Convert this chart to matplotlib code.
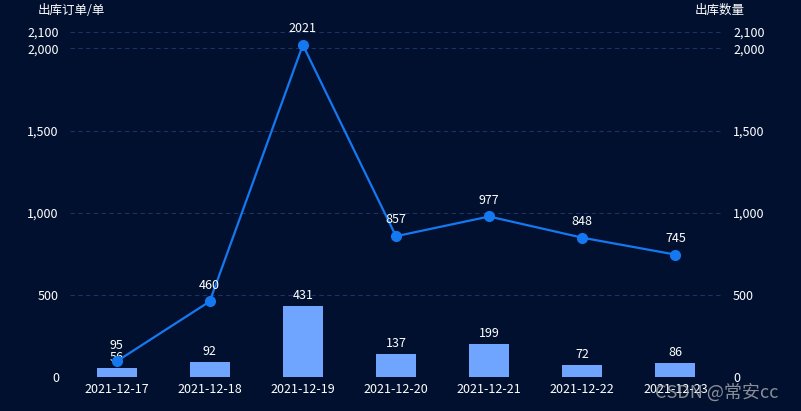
import matplotlib
matplotlib.use('Agg')
import matplotlib.pyplot as plt
import numpy as np

plt.rcParams['font.family'] = ['Noto Sans CJK SC', 'DejaVu Sans']

dates = ['2021-12-17', '2021-12-18', '2021-12-19', '2021-12-20',
         '2021-12-21', '2021-12-22', '2021-12-23']
orders = [56, 92, 431, 137, 199, 72, 86]
quantity = [95, 460, 2021, 857, 977, 848, 745]
yticks = [0, 500, 1000, 1500, 2000, 2100]

bg = '#01102f'
grid_c = '#1b3361'
bar_c = '#6fa5ff'
line_c = '#1479f0'

fig = plt.figure(figsize=(8.01, 4.11), dpi=100, facecolor=bg)
ax = fig.add_axes([70 / 801, 1 - 377 / 411, 652 / 801, 345 / 411], facecolor=bg)
ax2 = ax.twinx()

x = np.arange(len(dates))
ax.bar(x, orders, width=0.43, color=bar_c, zorder=2)
for xi, v in zip(x, orders):
    ax.annotate(str(v), (xi, v), xytext=(0, 3), textcoords='offset points',
                ha='center', va='bottom', color='white', fontsize=9)

ax2.plot(x, quantity, color=line_c, lw=1.6, marker='o', markersize=7, zorder=3)
for xi, v in zip(x, quantity):
    ax2.annotate(str(v), (xi, v), xytext=(0, 7), textcoords='offset points',
                 ha='center', va='bottom', color='white', fontsize=9)

for a in (ax, ax2):
    a.set_ylim(0, 2100)
    a.set_yticks(yticks)
    a.set_yticklabels([f'{t:,}' for t in yticks])
    a.set_xlim(-0.5, len(dates) - 0.5)
    for s in a.spines.values():
        s.set_visible(False)
    a.tick_params(axis='y', length=0, colors='white', labelsize=9, pad=8)

ax.set_xticks(x)
ax.set_xticklabels(dates)
ax.tick_params(axis='x', length=0, colors='white', labelsize=9, pad=4)
ax.grid(axis='y', color=grid_c, linestyle=(0, (4, 3)), lw=0.8, zorder=0)
ax.set_axisbelow(True)

fig.text(38 / 801, 1 - 10 / 411, '出库订单/单', color='white', fontsize=9,
         ha='left', va='center')
fig.text(745 / 801, 1 - 10 / 411, '出库数量', color='white', fontsize=9,
         ha='right', va='center')
# watermark
fig.text(655 / 801, 1 - 393 / 411, 'CSDN @常安cc', color='#b8b8b8', alpha=0.75,
         fontsize=13, ha='left', va='center')

fig.savefig('out.png', dpi=100, facecolor=bg)
